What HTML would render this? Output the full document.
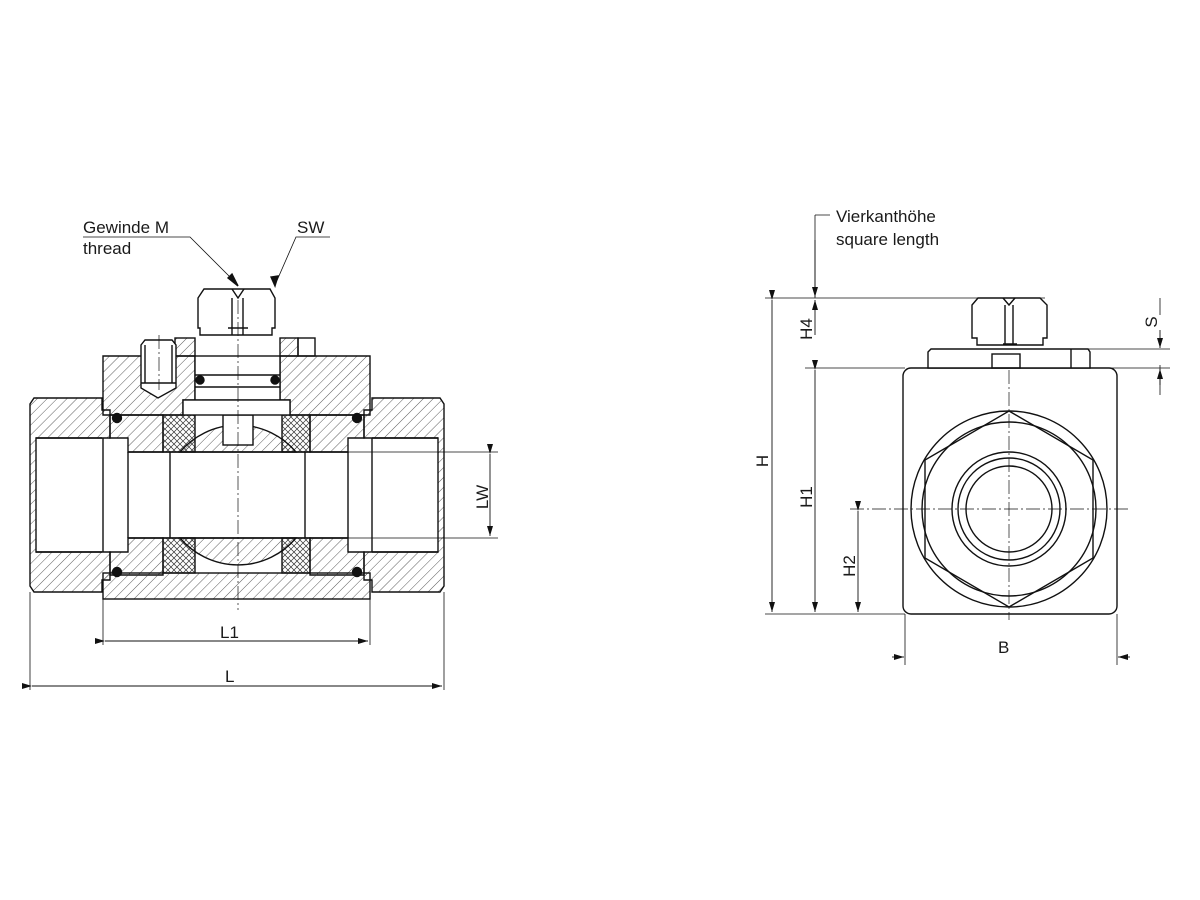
<!DOCTYPE html>
<html><head><meta charset="utf-8"><style>
html,body{margin:0;padding:0;background:#fff;}
svg{display:block;}
text{font-family:"Liberation Sans",sans-serif;font-size:17px;fill:#1a1a1a;}
</style></head><body>
<svg width="1200" height="900" viewBox="0 0 1200 900" xmlns="http://www.w3.org/2000/svg">
<defs>
<pattern id="h" width="7" height="7" patternUnits="userSpaceOnUse" patternTransform="rotate(45)">
<line x1="0" y1="0" x2="0" y2="7" stroke="#333" stroke-width="0.8"/></pattern>
<pattern id="x" width="6" height="6" patternUnits="userSpaceOnUse">
<path d="M0 0L6 6M6 0L0 6" stroke="#333" stroke-width="0.7"/></pattern>
<marker id="a" markerWidth="10" markerHeight="6" refX="10" refY="3" orient="auto" markerUnits="userSpaceOnUse">
<path d="M0 0L10 3L0 6Z" fill="#111"/></marker>
</defs>
<g stroke="#111" stroke-width="1.4" fill="none">
<path d="M34 398 H102 V410 H110 V438 H36 V552 H110 V580 H102 V592 H34 L30 586 V404Z" fill="url(#h)"/>
<path d="M440 398 H372 V410 H364 V438 H438 V552 H364 V580 H372 V592 H440 L444 586 V404Z" fill="url(#h)"/>
<path d="M110 415 H163 V452 H128 V438 H110Z" fill="url(#h)"/>
<path d="M110 575 H163 V538 H128 V552 H110Z" fill="url(#h)"/>
<path d="M364 415 H310 V452 H348 V438 H364Z" fill="url(#h)"/>
<path d="M364 575 H310 V538 H348 V552 H364Z" fill="url(#h)"/>
<path d="M103 356 H195 V400 H183 V415 H103Z" fill="url(#h)"/>
<path d="M370 356 H280 V400 H290 V415 H370Z" fill="url(#h)"/>
<rect x="103" y="573" width="267" height="26" fill="url(#h)"/>
<path d="M36 438 H102 M36 552 H102 M103 438 V552 M128 452 V538 M128 452 H348 M128 538 H348 M348 452 V538 M372 438 V552 M372 438 H438 M372 552 H438"/>
<path d="M170 452 V538 M305 452 V538"/>
<rect x="163" y="415" width="32" height="37" fill="url(#x)"/>
<rect x="282" y="415" width="28" height="37" fill="url(#x)"/>
<rect x="163" y="538" width="32" height="35" fill="url(#x)"/>
<rect x="282" y="538" width="28" height="35" fill="url(#x)"/>
<path d="M180 452 A76 76 0 0 1 296 452 Z" fill="url(#h)"/>
<path d="M180 538 A76 76 0 0 0 296 538 Z" fill="url(#h)"/>
<rect x="223" y="415" width="30" height="30" fill="#fff"/>
<rect x="195" y="356" width="85" height="44" fill="#fff"/>
<line x1="195" y1="375" x2="280" y2="375"/><line x1="195" y1="387" x2="280" y2="387"/>
<rect x="183" y="400" width="107" height="15" fill="#fff"/>
<circle cx="200" cy="380" r="4" fill="#111"/><circle cx="275" cy="380" r="4" fill="#111"/>
<circle cx="117" cy="418" r="4.5" fill="#111"/><circle cx="357" cy="418" r="4.5" fill="#111"/>
<circle cx="117" cy="572" r="4.5" fill="#111"/><circle cx="357" cy="572" r="4.5" fill="#111"/>
<rect x="175" y="338" width="20" height="18" fill="url(#h)"/>
<rect x="280" y="338" width="18" height="18" fill="url(#h)"/>
<rect x="298" y="338" width="17" height="18"/>
<path d="M141 345 L145 340 H172 L176 345 V388 L158 398 L141 388Z" fill="#fff"/>
<line x1="141" y1="383" x2="176" y2="383"/><line x1="145" y1="345" x2="145" y2="383"/><line x1="172" y1="345" x2="172" y2="383"/>
<path d="M198 298 L204 289 H270 L275 298 V328 H272 V335 H200 V328 H198Z" fill="#fff"/>
<path d="M232 289 L238 298 L244 289 M232 298 V335 M243 298 V335 M228 328 H248"/>
<path d="M238 300 V610 M159 335 V390" stroke-width="0.7" stroke-dasharray="14 3 2 3"/>
<path d="M103 599 V645 M370 599 V645 M30 592 V690 M444 592 V690" stroke-width="0.8"/>
<line x1="105" y1="641" x2="368" y2="641" marker-start="url(#a)" marker-end="url(#a)" stroke-width="0.9"/>
<line x1="32" y1="686" x2="442" y2="686" marker-start="url(#a)" marker-end="url(#a)" stroke-width="0.9"/>
<path d="M348 452 H498 M348 538 H498" stroke-width="0.8"/>
<line x1="490" y1="454" x2="490" y2="536" marker-start="url(#a)" marker-end="url(#a)" stroke-width="0.9"/>
<path d="M83 237 H190 L238 285 M330 237 H296 L275 285" stroke-width="0.8"/>
<path d="M228 278 L238 286 L232 274Z M271 277 L275 286 L278 276Z" fill="#111"/>

<rect x="903" y="368" width="214" height="246" rx="8" fill="#fff"/>
<path d="M928 352 L931 349 H1088 L1090 352 V368 H928Z" fill="#fff"/>
<rect x="992" y="354" width="28" height="14"/>
<line x1="1071" y1="349" x2="1071" y2="368"/>
<path d="M972 305 L978 298 H1040 L1047 305 V338 H1043 V345 H977 V338 H972Z" fill="#fff"/>
<path d="M1003 298 L1009 305 L1015 298 M1005 305 V345 M1013 305 V345 M1003 344 H1017"/>
<circle cx="1009" cy="509" r="98"/>
<polygon points="1009,411 1093,460 1093,558 1009,607 925,558 925,460"/>
<circle cx="1009" cy="509" r="87"/>
<circle cx="1009" cy="509" r="57"/>
<circle cx="1009" cy="509" r="51"/>
<circle cx="1009" cy="509" r="43"/>
<path d="M1009 370 V620 M850 509 H1130" stroke-width="0.7" stroke-dasharray="14 3 2 3"/>
<path d="M765 298 H1045 M805 368 H905 M765 614 H905 M1020 349 H1170 M1090 368 H1170 M1117 614 V665 M905 614 V665 M815 215 H830 M815 215 V298 M1160 298 V315 M1160 365 V395" stroke-width="0.8"/>
<line x1="772" y1="300" x2="772" y2="612" marker-start="url(#a)" marker-end="url(#a)" stroke-width="0.9"/>
<line x1="815" y1="370" x2="815" y2="612" marker-start="url(#a)" marker-end="url(#a)" stroke-width="0.9"/>
<line x1="858" y1="511" x2="858" y2="612" marker-start="url(#a)" marker-end="url(#a)" stroke-width="0.9"/>
<line x1="815" y1="240" x2="815" y2="297" marker-end="url(#a)" stroke-width="0.9"/>
<line x1="815" y1="335" x2="815" y2="300" marker-end="url(#a)" stroke-width="0.9"/>
<line x1="1160" y1="330" x2="1160" y2="348" marker-end="url(#a)" stroke-width="0.9"/>
<line x1="1160" y1="385" x2="1160" y2="369" marker-end="url(#a)" stroke-width="0.9"/>
<line x1="892" y1="657" x2="904" y2="657" marker-end="url(#a)" stroke-width="0.9"/>
<line x1="1130" y1="657" x2="1118" y2="657" marker-end="url(#a)" stroke-width="0.9"/>
</g>
<text x="83" y="233">Gewinde M</text>
<text x="83" y="254">thread</text>
<text x="297" y="233">SW</text>
<text x="836" y="222">Vierkanthöhe</text>
<text x="836" y="245">square length</text>
<text x="220" y="638">L1</text>
<text x="225" y="682">L</text>
<text x="998" y="653">B</text>
<text transform="translate(488,497) rotate(-90)" text-anchor="middle">LW</text>
<text transform="translate(768,461) rotate(-90)" text-anchor="middle">H</text>
<text transform="translate(812,497) rotate(-90)" text-anchor="middle">H1</text>
<text transform="translate(855,566) rotate(-90)" text-anchor="middle">H2</text>
<text transform="translate(812,329) rotate(-90)" text-anchor="middle">H4</text>
<text transform="translate(1157,322) rotate(-90)" text-anchor="middle">S</text>
</svg>
</body></html>
